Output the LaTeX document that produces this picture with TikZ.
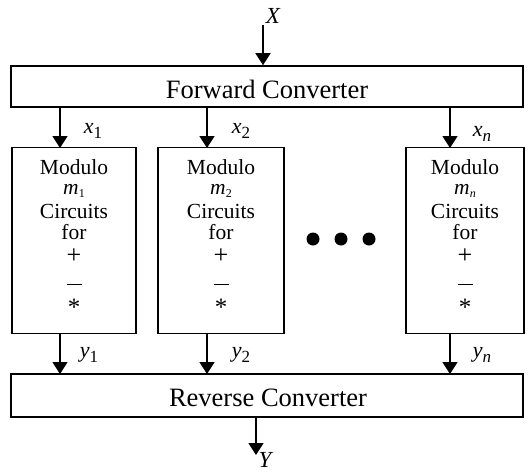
\documentclass[tikz,border=0pt]{standalone}
\usepackage{fontspec}
\setmainfont{Liberation Serif}
\usetikzlibrary{arrows.meta}
\newcommand{\fs}[1]{\fontsize{#1}{#1}\selectfont}
\newcommand{\sig}[2]{\textit{#1}\raisebox{-0.45ex}{\fs{17}#2}}
\begin{document}
\begin{tikzpicture}[x=1pt,y=-1pt,
  box/.style={draw,line width=1.6pt,inner sep=0pt},
  flow/.style={line width=1.6pt,-{Triangle[width=15pt,length=12pt]}},
  sigl/.style={font=\fs{22},inner sep=0pt},
  modtxt/.style={font=\fs{21.5},inner sep=0pt,anchor=center}]
\useasboundingbox (0,0) rectangle (528,472);
\fill[white] (0,0) rectangle (528,472);

% converters
\node[box,minimum width=512pt,minimum height=41pt] (fwd) at (267,86.5) {};
\node[font=\fs{26.5},inner sep=0pt] (fwdt) at (267,89) {Forward Converter};
\node[box,minimum width=512pt,minimum height=43pt] (rev) at (267,395.5) {};
\node[font=\fs{26.5},inner sep=0pt] (revt) at (268,398) {Reverse Converter};

% modulo channels
\foreach \n/\cx/\l/\r/\subx in {1/74/12/136/\textup{1},2/221/158/284/\textup{2},n/465/406/524/\textit{n}}{
  \node[box,minimum width={\r-\l},minimum height=186pt] (mod\n) at (\cx,240.5) {};
  \node[modtxt] (modA\n) at (\cx,167) {Modulo};
  \node[modtxt] (modB\n) at (\cx,191) {\textit{m}\raisebox{-0.3ex}{\fs{12}\subx}};
  \node[modtxt] (modC\n) at (\cx,211) {Circuits};
  \node[modtxt] (modD\n) at (\cx,232) {for};
  \node[modtxt,font=\fs{26}] (modE\n) at (\cx,256) {+};
  \node[modtxt] (modF\n) at (\cx,284) {\rule{15pt}{0.8pt}};
  \node[modtxt,font=\fs{25}] (modG\n) at (\cx,307) {*};
}

% channel connectors
\foreach \n/\ax in {1/60,2/207,n/450}{
  \coordinate (in\n) at (\ax,107);
  \coordinate (out\n) at (\ax,333);
  \draw[flow] (in\n) -- (\ax,148);
  \draw[flow] (out\n) -- (\ax,374);
}
\node[sigl] (x1) at (93,131) {\sig{x}{1}};
\node[sigl] (x2) at (241,131) {\sig{x}{2}};
\node[sigl] (xn) at (482,134) {\sig{x}{\textit{n}}};
\node[sigl] (y1) at (89,355) {\sig{y}{1}};
\node[sigl] (y2) at (241,355) {\sig{y}{2}};
\node[sigl] (yn) at (482,355) {\sig{y}{\textit{n}}};

% dots between channels
\foreach \dx in {313,341,369}
  \fill (\dx,239) circle (6.5pt);

% system input and output
\node[font=\itshape\fs{23},inner sep=0pt] (X) at (273,16) {X};
\coordinate (Xs) at (263,25);
\draw[flow] (Xs) -- (fwd.north -| Xs);
\node[font=\itshape\fs{23},inner sep=0pt] (Y) at (265,460) {Y};
\coordinate (Ys) at (256,417);
\draw[flow] (Ys) -- (256,455);
\end{tikzpicture}
\end{document}
